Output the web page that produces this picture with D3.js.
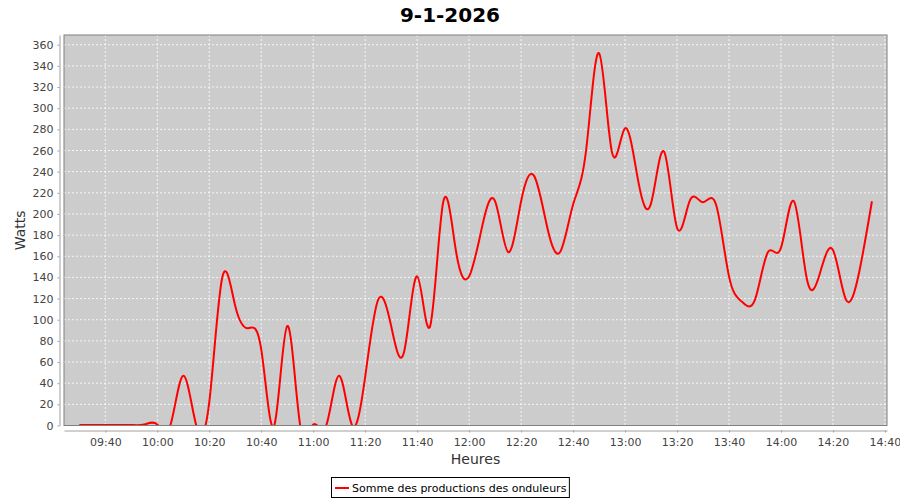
<!DOCTYPE html>
<html>
<head>
<meta charset="utf-8">
<script src="https://cdn.jsdelivr.net/npm/d3@7/dist/d3.min.js"></script>
<style>
  html, body { margin: 0; padding: 0; background: #ffffff; }
  svg { display: block; font-family: "DejaVu Sans", sans-serif; }
</style>
</head>
<body>
<svg id="chart" width="900" height="500"></svg>
<script>
// ---- data ----
const title = "9-1-2026";
const seriesName = "Somme des productions des onduleurs";
const xLabel = "Heures";
const yLabel = "Watts";
const times = [
  "09:30","09:35","09:40","09:45","09:50","09:55",
  "10:00","10:05","10:10","10:15","10:20","10:25","10:30","10:35","10:40","10:45","10:50","10:55",
  "11:00","11:05","11:10","11:15","11:20","11:25","11:30","11:35","11:40","11:45","11:50","11:55",
  "12:00","12:05","12:10","12:15","12:20","12:25","12:30","12:35","12:40","12:45","12:50","12:55",
  "13:00","13:05","13:10","13:15","13:20","13:25","13:30","13:35","13:40","13:45","13:50","13:55",
  "14:00","14:05","14:10","14:15","14:20","14:25","14:30","14:35"
];
const watts = [
  0.5, 0.5, 0.5, 0.5, 0.5, 1,
  1, 0, 47, 0, 22, 140, 113, 92, 72, 0, 94, 0,
  1, 0, 47, 0, 46, 119, 94, 70, 141, 94, 211, 164,
  141, 188, 212, 164, 212, 236, 188, 164, 209, 260, 352, 258,
  281, 232, 210, 259, 187, 213, 211, 209, 141, 117, 119, 164,
  168, 212, 138, 144, 166, 119, 144, 212
];
const xTickLabels = ["09:40","10:00","10:20","10:40","11:00","11:20","11:40","12:00","12:20","12:40","13:00","13:20","13:40","14:00","14:20","14:40"];
const yTicks = [0,20,40,60,80,100,120,140,160,180,200,220,240,260,280,300,320,340,360];
const xDomain = ["09:24.1", "14:40.8"];
const yMax = 369.2;

// ---- helpers ----
function toMin(s) {
  const [h, m] = s.split(":");
  return +h * 60 + parseFloat(m);
}
function fmt(m) {
  const h = Math.floor(m / 60), mm = Math.round(m - h * 60);
  return String(h).padStart(2, "0") + ":" + String(mm).padStart(2, "0");
}

const data = times.map((t, i) => ({ t: toMin(t), v: watts[i] }));

const svg = d3.select("#chart");
const plot = { left: 64, right: 887, top: 35, bottom: 425.5 };

const x = d3.scaleLinear().domain(xDomain.map(toMin)).range([plot.left, plot.right]);
const y = d3.scaleLinear().domain([0, yMax]).range([plot.bottom, plot.top]);

// title
svg.append("text")
  .attr("x", 450).attr("y", 22)
  .attr("text-anchor", "middle")
  .attr("font-size", 20).attr("font-weight", "bold")
  .attr("fill", "#000")
  .text(title);

// plot background
svg.append("rect")
  .attr("x", plot.left).attr("y", plot.top)
  .attr("width", plot.right - plot.left).attr("height", plot.bottom - plot.top)
  .attr("fill", "#cccccc");

// gridlines
const xTickVals = xTickLabels.map(toMin);
const grid = svg.append("g");
grid.selectAll("line.vx").data(xTickVals).join("line")
  .attr("x1", d => x(d)).attr("x2", d => x(d))
  .attr("y1", plot.top).attr("y2", plot.bottom)
  .attr("stroke", "#ffffff").attr("stroke-width", 0.8)
  .attr("stroke-dasharray", "2,2");
grid.selectAll("line.hy").data(yTicks).join("line")
  .attr("x1", plot.left).attr("x2", plot.right)
  .attr("y1", d => y(d)).attr("y2", d => y(d))
  .attr("stroke", "#ffffff").attr("stroke-width", 0.8)
  .attr("stroke-dasharray", "2,2");

// clip
svg.append("clipPath").attr("id", "clip")
  .append("rect")
  .attr("x", plot.left).attr("y", plot.top)
  .attr("width", plot.right - plot.left).attr("height", plot.bottom - plot.top);

// line
const line = d3.line()
  .x(d => x(d.t))
  .y(d => y(d.v))
  .curve(d3.curveNatural);

svg.append("path")
  .datum(data)
  .attr("clip-path", "url(#clip)")
  .attr("fill", "none")
  .attr("stroke", "#ff0000")
  .attr("stroke-width", 2)
  .attr("stroke-linejoin", "round")
  .attr("d", line);

// plot outline
svg.append("rect")
  .attr("x", plot.left).attr("y", plot.top)
  .attr("width", plot.right - plot.left).attr("height", plot.bottom - plot.top)
  .attr("fill", "none").attr("stroke", "#808080").attr("stroke-width", 1);

// y axis
const yAxis = d3.axisLeft(y).tickValues(yTicks).tickSize(2).tickSizeOuter(0).tickPadding(4);
const gy = svg.append("g").attr("transform", "translate(59.5,0)").call(yAxis);
gy.select(".domain").attr("stroke", "#a0a0a0");
gy.selectAll(".tick line").attr("stroke", "#a0a0a0");
gy.selectAll("text").attr("font-size", 11).attr("fill", "#444444")
  .attr("font-family", "DejaVu Sans, sans-serif");

// x axis
const xAxis = d3.axisBottom(x).tickValues(xTickVals).tickFormat(fmt)
  .tickSize(2).tickSizeOuter(0).tickPadding(6);
const gx = svg.append("g").attr("transform", "translate(0,430.5)").call(xAxis);
gx.select(".domain").attr("stroke", "#a0a0a0");
gx.selectAll(".tick line").attr("stroke", "#a0a0a0");
gx.selectAll("text").attr("font-size", 11).attr("fill", "#444444")
  .attr("font-family", "DejaVu Sans, sans-serif");

// axis labels
svg.append("text")
  .attr("x", (plot.left + plot.right) / 2).attr("y", 464)
  .attr("text-anchor", "middle").attr("font-size", 14).attr("fill", "#333333")
  .text(xLabel);
svg.append("text")
  .attr("transform", `translate(25,${(plot.top + plot.bottom) / 2}) rotate(-90)`)
  .attr("text-anchor", "middle").attr("font-size", 14).attr("fill", "#333333")
  .text(yLabel);

// legend
const lg = svg.append("g");
const lgText = lg.append("text")
  .attr("x", 352).attr("y", 492)
  .attr("font-size", 11).attr("fill", "#000")
  .text(seriesName);
const tw = lgText.node().getComputedTextLength();
lg.insert("rect", "text")
  .attr("x", 331.5).attr("y", 477.5)
  .attr("width", (352 - 331.5) + tw + 3).attr("height", 20)
  .attr("fill", "#fff").attr("stroke", "#000").attr("stroke-width", 1);
lg.append("line")
  .attr("x1", 335).attr("x2", 349).attr("y1", 488).attr("y2", 488)
  .attr("stroke", "#ff0000").attr("stroke-width", 2);
</script>
</body>
</html>
